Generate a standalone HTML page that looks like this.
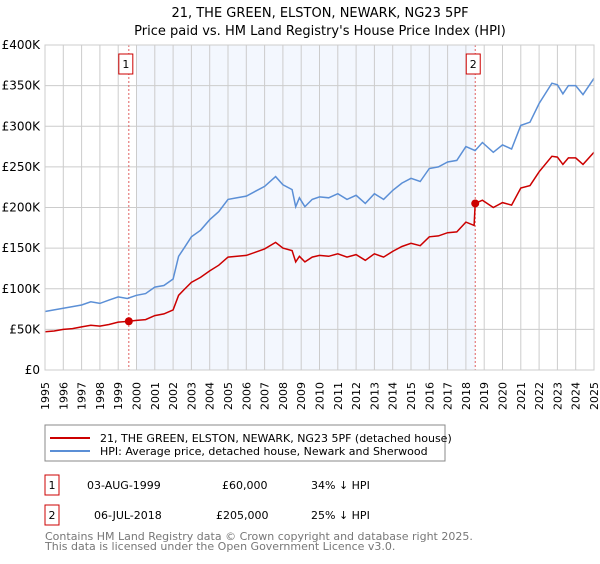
<!DOCTYPE html>
<html><head><meta charset="utf-8"><style>
body{margin:0;background:#fff;width:600px;height:560px;overflow:hidden;font-family:"DejaVu Sans","Liberation Sans",sans-serif;}
svg text{font-family:"DejaVu Sans","Liberation Sans",sans-serif;}
</style></head><body>
<svg id="c" width="600" height="560" xmlns="http://www.w3.org/2000/svg">
<text x="320" y="17" text-anchor="middle" font-size="13">21, THE GREEN, ELSTON, NEWARK, NG23 5PF</text>
<text x="320" y="35" text-anchor="middle" font-size="13">Price paid vs. HM Land Registry's House Price Index (HPI)</text>
<g id="plot"></g>
<g>
<rect x="45" y="425" width="400" height="36" fill="#fff" stroke="#888"/>
<line x1="50" y1="438" x2="90" y2="438" stroke="#cc0000" stroke-width="2"/>
<text x="100" y="442" font-size="11">21, THE GREEN, ELSTON, NEWARK, NG23 5PF (detached house)</text>
<line x1="50" y1="451" x2="90" y2="451" stroke="#5b8fd6" stroke-width="2"/>
<text x="100" y="455" font-size="11">HPI: Average price, detached house, Newark and Sherwood</text>
</g>
<g font-size="11">
<rect x="45" y="475" width="14" height="20" fill="#fff" stroke="#cc0000"/>
<text x="52" y="489" text-anchor="middle">1</text>
<text x="87" y="489">03-AUG-1999</text>
<text x="222" y="489">£60,000</text>
<text x="311" y="489">34% ↓ HPI</text>
<rect x="45" y="505" width="14" height="20" fill="#fff" stroke="#cc0000"/>
<text x="52" y="519" text-anchor="middle">2</text>
<text x="94" y="519">06-JUL-2018</text>
<text x="216" y="519">£205,000</text>
<text x="311" y="519">25% ↓ HPI</text>
</g>
<text x="45" y="540" font-size="11" fill="#777">Contains HM Land Registry data © Crown copyright and database right 2025.</text>
<text x="45" y="550" font-size="11" fill="#777">This data is licensed under the Open Government Licence v3.0.</text>
</svg>
<script>
const hpiYears=[1995,1995.5,1996,1996.5,1997,1997.5,1998,1998.5,1999,1999.5,2000,2000.5,2001,2001.5,2002,2002.3,2002.6,2003,2003.5,2004,2004.5,2005,2005.5,2006,2006.5,2007,2007.6,2008,2008.5,2008.7,2008.9,2009.2,2009.6,2010,2010.5,2011,2011.5,2012,2012.5,2013,2013.5,2014,2014.5,2015,2015.5,2016,2016.5,2017,2017.5,2018,2018.5,2018.9,2019.5,2020,2020.5,2021,2021.5,2022,2022.7,2023,2023.3,2023.6,2024,2024.4,2025];
const hpiValues=[72,74,76,78,80,84,82,86,90,88,92,94,102,104,112,140,150,164,172,185,195,210,212,214,220,226,238,228,222,201,212,201,210,213,212,217,210,215,205,217,210,221,230,236,232,248,250,256,258,275,270,280,268,277,272,301,305,328,353,351,340,350,350,339,359];
const priceYears=[1995,1995.5,1996,1996.5,1997,1997.5,1998,1998.5,1999,1999.58,2000,2000.5,2001,2001.5,2002,2002.3,2002.6,2003,2003.5,2004,2004.5,2005,2005.5,2006,2006.5,2007,2007.6,2008,2008.5,2008.7,2008.9,2009.2,2009.6,2010,2010.5,2011,2011.5,2012,2012.5,2013,2013.5,2014,2014.5,2015,2015.5,2016,2016.5,2017,2017.5,2018,2018.45,2018.51,2018.9,2019.5,2020,2020.5,2021,2021.5,2022,2022.7,2023,2023.3,2023.6,2024,2024.4,2025];
const priceValues=[47,48,50,51,53,55,54,56,59,60,61,62,67,69,74,92,99,108,114,122,129,139,140,141,145,149,157,150,147,133,140,133,139,141,140,143,139,142,135,143,139,146,152,156,153,164,165,169,170,182,178,205,209,200,206,203,224,227,244,263,262,253,261,261,253,268];
const yTicks=[0,50,100,150,200,250,300,350,400];
const yTickLabels=["£0","£50K","£100K","£150K","£200K","£250K","£300K","£350K","£400K"];
const xTicks=[1995,1996,1997,1998,1999,2000,2001,2002,2003,2004,2005,2006,2007,2008,2009,2010,2011,2012,2013,2014,2015,2016,2017,2018,2019,2020,2021,2022,2023,2024,2025];
const saleYears=[1999.58,2018.51];
const saleValues=[60,205];
const saleLabels=["1","2"];
const shadeRange=[2000,2018.51];

const NS="http://www.w3.org/2000/svg";
const X0=45,X1=594,Y0=370,Y1=45;
const xs=y=>X0+(y-1995)/(2025-1995)*(X1-X0);
const ys=v=>Y0-v/400*(Y0-Y1);
const g=document.getElementById('plot');
function mk(t,a){const e=document.createElementNS(NS,t);for(const k in a)e.setAttribute(k,a[k]);g.appendChild(e);return e;}
let e=mk('rect',{x:xs(shadeRange[0]),y:Y1,width:xs(shadeRange[1])-xs(shadeRange[0]),height:Y0-Y1,fill:'#f3f7fe'});


xTicks.forEach(t=>{
 const l=mk('line',{x1:xs(t),x2:xs(t),y1:Y1,y2:Y0,stroke:'#ccc','stroke-width':1});
 
 
 const tx=mk('text',{x:0,y:0,'font-size':11,'text-anchor':'end',transform:`translate(${xs(t)+4},382) rotate(-90)`});
 tx.textContent=t;
 
 
});
yTicks.forEach((t,i)=>{
 const l=mk('line',{x1:X0,x2:X1,y1:ys(t),y2:ys(t),stroke:'#ccc','stroke-width':1});
 
 
 const tx=mk('text',{x:40,y:ys(t)+4,'font-size':12,'text-anchor':'end'});
 tx.textContent=yTickLabels[i];
 
 
});
saleYears.forEach((s,i)=>{
 const l=mk('line',{x1:xs(s),x2:xs(s),y1:Y1,y2:Y0,stroke:'#e06060','stroke-dasharray':'2,2','stroke-width':1});
 
 
 const r=mk('rect',{x:xs(s)-7-(i==0?3:2),y:54,width:14,height:20,fill:'#fff',stroke:'#cc0000'});
 
 
 const t=mk('text',{x:xs(s)-(i==0?3:2),y:68,'font-size':11,'text-anchor':'middle'});
 t.textContent=saleLabels[i];
 
 
});
function path(xa,va){return xa.map((x,i)=>(i?'L':'M')+xs(x).toFixed(1)+','+ys(va[i]).toFixed(1)).join('');}
const hp=mk('path',{d:path(hpiYears,hpiValues),fill:'none',stroke:'#5b8fd6','stroke-width':1.5});


const pp=mk('path',{d:path(priceYears,priceValues),fill:'none',stroke:'#cc0000','stroke-width':1.5});


saleYears.forEach((s,i)=>{
 const c=mk('circle',{cx:xs(s),cy:ys(saleValues[i]),r:4,fill:'#cc0000'});
 
 
});
const fr=mk('rect',{x:X0,y:Y1,width:X1-X0,height:Y0-Y1,fill:'none',stroke:'#ccc'});


</script>
</body></html>
